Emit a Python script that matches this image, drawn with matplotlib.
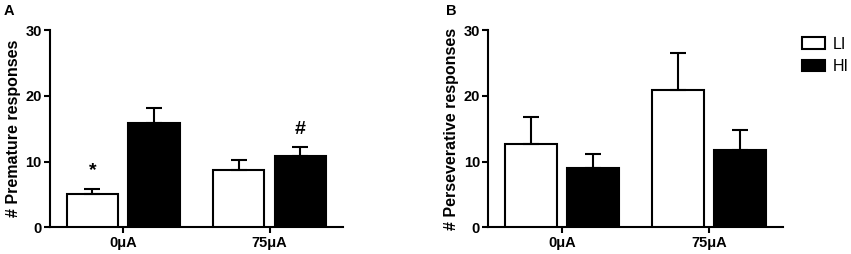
import matplotlib.pyplot as plt
from matplotlib.patches import Patch

plt.rcParams['font.family'] = ['Liberation Sans', 'DejaVu Sans']
plt.rcParams['font.weight'] = 'bold'

doses = ['0\u03bcA', '75\u03bcA']
groups = ['LI', 'HI']

premature_li = [5.1, 8.7]
premature_li_err = [0.7, 1.5]
premature_hi = [15.9, 10.9]
premature_hi_err = [2.3, 1.4]

persev_li = [12.7, 20.9]
persev_li_err = [4.1, 5.6]
persev_hi = [9.0, 11.8]
persev_hi_err = [2.1, 3.0]

# significance marks: (dose index, group, label, height)
premature_marks = [(0, 'LI', '*', 7.4), (1, 'HI', '#', 13.6)]

WIDTH = 0.35
OFFSET = 0.21


def draw_panel(ax, li, li_err, hi, hi_err, ylabel):
    x = range(len(doses))
    li_x = [i - OFFSET for i in x]
    hi_x = [i + OFFSET for i in x]
    err_kw = dict(ecolor='black', elinewidth=1.5, capsize=6, capthick=1.5)
    ax.bar(li_x, li, WIDTH, color='white', edgecolor='black', linewidth=1.5,
           yerr=[[0] * len(li), li_err], error_kw=err_kw, zorder=3)
    ax.bar(hi_x, hi, WIDTH, color='black', edgecolor='black', linewidth=1.5,
           yerr=[[0] * len(hi), hi_err], error_kw=err_kw, zorder=3)
    ax.set_xlim(-0.5, 1.5)
    ax.set_ylim(0, 30)
    ax.set_yticks([0, 10, 20, 30])
    ax.set_xticks(list(x))
    ax.set_xticklabels(doses)
    ax.set_ylabel(ylabel, fontsize=11.5, fontweight='bold', labelpad=3)
    for side in ['top', 'right']:
        ax.spines[side].set_visible(False)
    for side in ['left', 'bottom']:
        ax.spines[side].set_linewidth(1.5)
    ax.tick_params(width=1.5, length=4, labelsize=10.5, pad=2)
    return li_x, hi_x


fig = plt.figure(figsize=(8.51, 2.54), dpi=100)
ax_a = fig.add_axes([0.0588, 0.105, 0.344, 0.776])
ax_b = fig.add_axes([0.5738, 0.105, 0.346, 0.776])

li_x, hi_x = draw_panel(ax_a, premature_li, premature_li_err, premature_hi,
                        premature_hi_err, '# Premature responses')
for i, grp, label, h in premature_marks:
    xpos = li_x[i] if grp == 'LI' else hi_x[i]
    ax_a.text(xpos, h, label, ha='center', va='bottom', fontsize=14,
              fontweight='bold')

draw_panel(ax_b, persev_li, persev_li_err, persev_hi, persev_hi_err,
           '# Perseverative responses')

fig.text(0.004, 0.985, 'A', ha='left', va='top', fontsize=10.5, fontweight='bold')
fig.text(0.524, 0.985, 'B', ha='left', va='top', fontsize=10.5, fontweight='bold')

handles = [Patch(facecolor='white', edgecolor='black', linewidth=1.5),
           Patch(facecolor='black', edgecolor='black', linewidth=1.5)]
fig.legend(handles, groups, loc='upper left', bbox_to_anchor=(0.943, 0.855),
           frameon=False, prop={'size': 11.5, 'weight': 'normal'},
           handlelength=1.4, handleheight=0.75,
           handletextpad=0.5, labelspacing=0.45, borderaxespad=0, borderpad=0)

fig.savefig('out.png', dpi=100)
